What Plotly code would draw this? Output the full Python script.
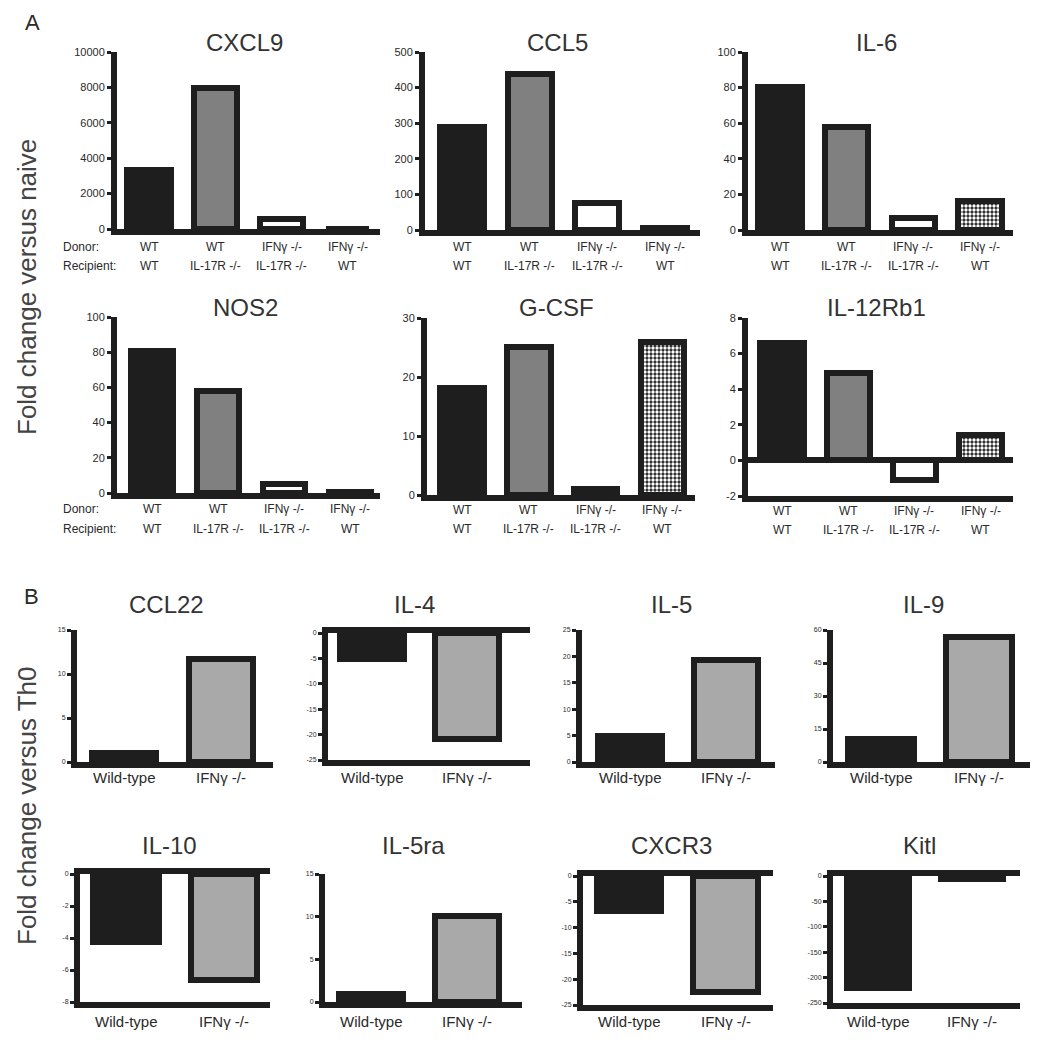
import plotly.graph_objects as go

W, H = 1050, 1044
OFF = 8  # page body margin compensation

# ---------------- DATA ----------------
# Panel A : fold change versus naive
a_titles = ["CXCL9", "CCL5", "IL-6", "NOS2", "G-CSF", "IL-12Rb1"]
a_donor = ["WT", "WT", "IFNγ -/-", "IFNγ -/-"]
a_recipient = ["WT", "IL-17R -/-", "IL-17R -/-", "WT"]
cxcl9 = [3330, 7970, 560, 20]
ccl5 = [288, 438, 76, 6]
il6 = [80.5, 57.7, 6.9, 16.2]
nos2 = [80.7, 57.9, 5.4, 0.8]
gcsf = [18.2, 25.1, 1.1, 25.9]
il12rb1 = [6.6, 4.9, -1.1, 1.4]
a_values = [cxcl9, ccl5, il6, nos2, gcsf, il12rb1]
a_ranges = [[0, 10000], [0, 500], [0, 100], [0, 100], [0, 30], [-2, 8]]
a_ticks = [[0, 2000, 4000, 6000, 8000, 10000],
           [0, 100, 200, 300, 400, 500],
           [0, 20, 40, 60, 80, 100],
           [0, 20, 40, 60, 80, 100],
           [0, 10, 20, 30],
           [-2, 0, 2, 4, 6, 8]]

# Panel B : fold change versus Th0
b_titles = ["CCL22", "IL-4", "IL-5", "IL-9", "IL-10", "IL-5ra", "CXCR3", "Kitl"]
b_groups = ["Wild-type", "IFNγ -/-"]
ccl22 = [1.0, 11.7]
il4 = [-5.1, -20.9]
il5 = [5.0, 19.4]
il9 = [10.5, 57.0]
il10 = [-4.25, -6.6]
il5ra = [0.95, 10.1]
cxcr3 = [-6.7, -22.5]
kitl = [-220, -5]
b_values = [ccl22, il4, il5, il9, il10, il5ra, cxcr3, kitl]
b_ranges = [[0, 15], [-25, 0], [0, 25], [0, 60], [-8, 0], [0, 15], [-25, 0], [-250, 0]]
b_ticks = [[0, 5, 10, 15], [-25, -20, -15, -10, -5, 0], [0, 5, 10, 15, 20, 25],
           [0, 15, 30, 45, 60], [-8, -6, -4, -2, 0], [0, 5, 10, 15],
           [-25, -20, -15, -10, -5, 0], [-250, -200, -150, -100, -50, 0]]

# ---------------- LAYOUT GEOMETRY (pixels) ----------------
# (axis_x, first_center, slot, end_x, top_y, bottom_y)
a_geom = [(117, 149, 66.3, 380, 52, 229),
          (425, 462, 67.7, 700, 52, 230),
          (748, 780, 66.7, 1013, 52, 230),
          (117, 152, 66.0, 380, 317, 493),
          (427, 462, 66.8, 695, 318, 495),
          (748, 782, 66.2, 1013, 318, 496)]
b_geom = [(77, 124, 97, 273, 630, 762),
          (328, 372, 95, 530, 633, 760),
          (582, 630, 96, 775, 630, 762),
          (833, 881, 98, 1030, 630, 762),
          (80, 126, 98, 270, 874, 1002),
          (325, 371, 96, 522, 874, 1002),
          (583, 629, 96.5, 773, 876, 1005),
          (833, 878, 94, 1020, 876, 1003)]

INK = "#1e1e1e"
TXT = "#2a2a2a"
FONT = "Arial, Liberation Sans, Helvetica, sans-serif"
a_colors = [INK, "#808080", "white", INK]
b_colors = [INK, "#a9a9a9"]

fig = go.Figure()
annotations = []
layout = {}


def px(x):
    return (x - OFF) / W


def py(y):
    return 1 - (y - OFF) / H


def note(x, y, text, size, color=TXT, xref="paper", xanchor="center", angle=0):
    annotations.append(dict(x=x, y=py(y), xref=xref, yref="paper", text=text,
                            showarrow=False, xanchor=xanchor, yanchor="middle",
                            textangle=angle,
                            font=dict(size=size, color=color, family=FONT)))


def add_panel(n, cats, vals, colors, rng, ticks, geom, tick_size, bar_width,
              pattern_last=False, mirror=False, zeroline=False):
    ax, c1, slot, end, top, bot = geom
    xname = "x" if n == 1 else f"x{n}"
    yname = "y" if n == 1 else f"y{n}"
    xkey = "xaxis" if n == 1 else f"xaxis{n}"
    ykey = "yaxis" if n == 1 else f"yaxis{n}"
    idx = list(range(len(cats)))
    marker = dict(color=colors, line=dict(color=INK, width=6))
    if pattern_last:
        shapes = [""] * (len(cats) - 1) + ["."]
        marker["pattern"] = dict(shape=shapes, fgcolor="white", bgcolor=INK,
                                 fgopacity=1, size=4, solidity=0.55)
    fig.add_trace(go.Bar(x=idx, y=vals, width=bar_width, marker=marker,
                         xaxis=xname, yaxis=yname, showlegend=False,
                         hoverinfo="skip"))
    layout[xkey] = dict(domain=[px(ax), px(end)],
                        range=[(ax - c1) / slot, (end - c1) / slot],
                        showline=True, linewidth=6, linecolor=INK,
                        mirror=mirror, showgrid=False, zeroline=False,
                        showticklabels=False, ticks="", anchor=yname,
                        fixedrange=True, automargin=False)
    layout[ykey] = dict(domain=[py(bot), py(top)], range=rng,
                        tickvals=ticks, ticktext=[str(t) for t in ticks],
                        showline=True, linewidth=6, linecolor=INK,
                        ticks="outside", ticklen=4, tickwidth=3, tickcolor=INK,
                        tickfont=dict(size=tick_size, color=TXT, family=FONT),
                        showgrid=False, zeroline=zeroline,
                        zerolinewidth=6, zerolinecolor=INK,
                        anchor=xname, fixedrange=True, automargin=False)
    return xname


# Panel A
a_title_y = [42, 42, 42, 307, 307, 307]
a_lab_y = [(247, 266), (247, 266), (247, 266), (509, 529), (510, 529), (511, 530)]
for i in range(6):
    xname = add_panel(i + 1, a_donor, a_values[i], a_colors, a_ranges[i],
                      a_ticks[i], a_geom[i], 11, 0.65, pattern_last=True,
                      zeroline=(a_ranges[i][0] < 0))
    ax, c1, slot, end, top, bot = a_geom[i]
    cx = (ax + c1 + slot * (len(a_donor) - 1) + 0.36 * slot) / 2
    note(px(cx), a_title_y[i], a_titles[i], 24, color="#333333")
    for j in range(len(a_donor)):
        note(j, a_lab_y[i][0], a_donor[j], 12, xref=xname)
        note(j, a_lab_y[i][1], a_recipient[j], 12, xref=xname)

for yy_d, yy_r in ((247, 266), (509, 529)):
    note(px(61), yy_d, "Donor:", 12, xanchor="left")
    note(px(61), yy_r, "Recipient:", 12, xanchor="left")

# Panel B
b_title_y = [604, 604, 604, 604, 845, 845, 845, 845]
b_lab_y = [777, 777, 777, 777, 1021, 1021, 1021, 1021]
for i in range(8):
    neg = b_ranges[i][1] <= 0
    xname = add_panel(7 + i, b_groups, b_values[i], b_colors, b_ranges[i],
                      b_ticks[i], b_geom[i], 7, 0.67, mirror=neg)
    ax, c1, slot, end, top, bot = b_geom[i]
    cx = (ax + c1 + slot + 0.36 * slot) / 2
    note(px(cx), b_title_y[i], b_titles[i], 24, color="#333333")
    for j in range(len(b_groups)):
        note(j, b_lab_y[i], b_groups[j], 15, xref=xname)

# Panel letters and shared y titles
note(px(32), 22, "A", 22)
note(px(31), 596, "B", 22)
note(px(27), 287, "Fold change versus naive", 26, color="#444444", angle=-90)
note(px(27), 806, "Fold change versus Th0", 26, color="#444444", angle=-90)

fig.update_layout(width=W, height=H, margin=dict(l=0, r=0, t=0, b=0, pad=0),
                  autosize=False,
                  paper_bgcolor="white", plot_bgcolor="white",
                  bargap=0, annotations=annotations, showlegend=False, **layout)

fig.write_html("out.html")
